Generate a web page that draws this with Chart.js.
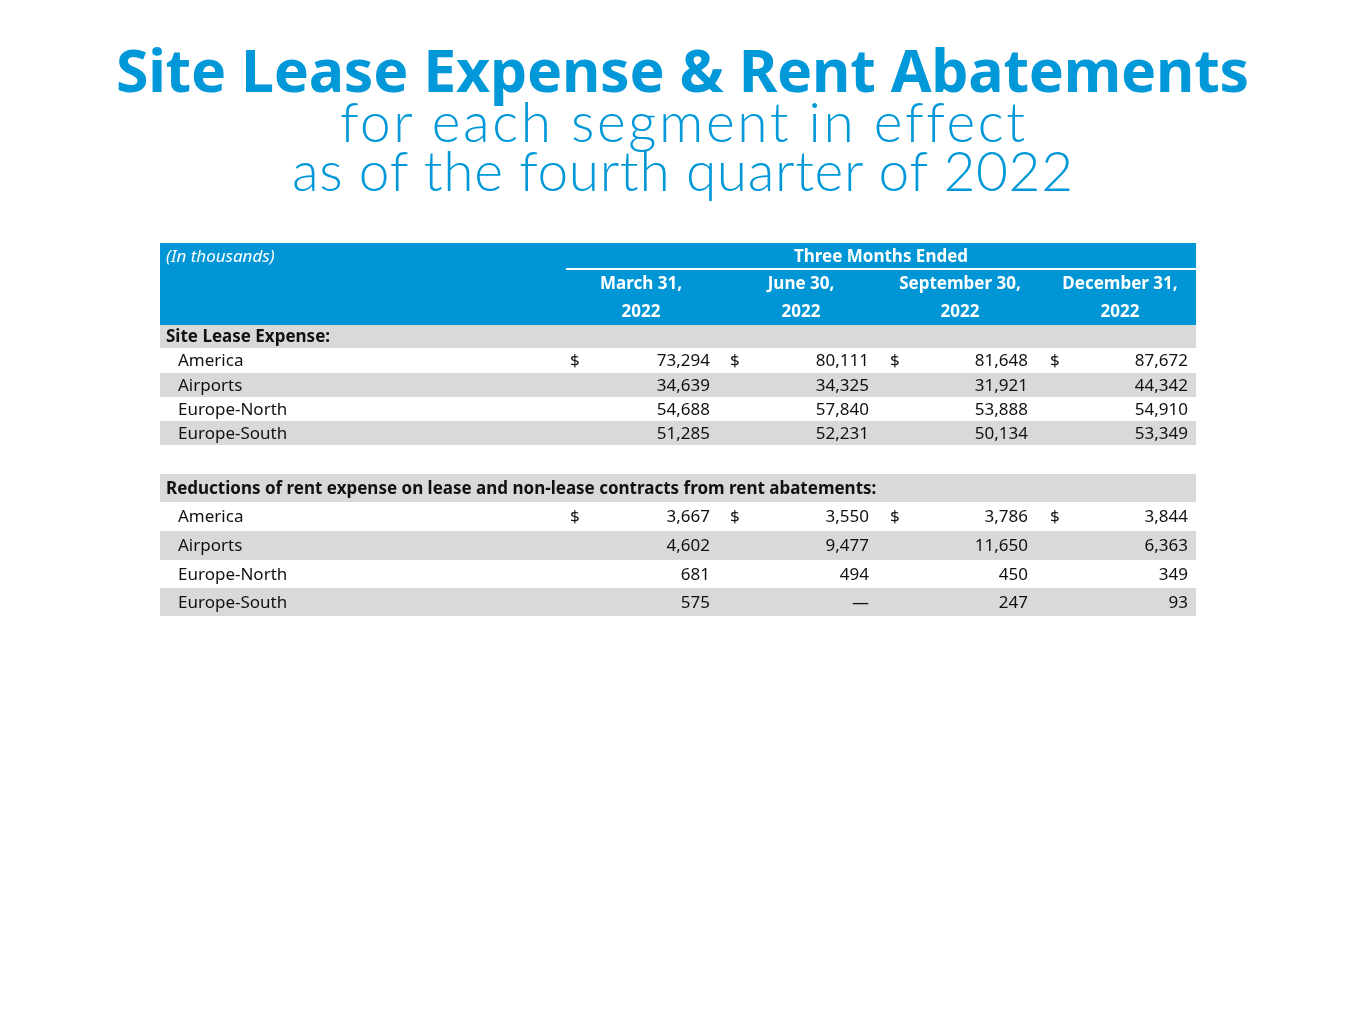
<!DOCTYPE html>
<html>
<head>
<meta charset="utf-8">
<title>Site Lease Expense & Rent Abatements</title>
<script src="https://cdn.jsdelivr.net/npm/chart.js@4.4.0/dist/chart.umd.min.js"></script>
<style>
  body { margin: 0; background: #fff; width: 1365px; height: 1024px; position: relative; overflow: hidden; }
  .titulo { position: absolute; left: 0; width: 1365px; text-align: center; color: #0098d8; white-space: nowrap; line-height: 1; }
  #titulo1 { font-family: "Noto Sans", sans-serif; font-weight: 700; }
  .sub { font-family: "Lato", sans-serif; font-weight: 300; }
  #tabla_wrap { position: absolute; left: 160px; top: 243px; width: 1036px; height: 373px; }
</style>
</head>
<body>
<div id="titulo1" class="titulo">Site Lease Expense &amp; Rent Abatements</div>
<div id="titulo2" class="titulo sub">for each segment in effect</div>
<div id="titulo3" class="titulo sub">as of the fourth quarter of 2022</div>
<div id="tabla_wrap"><canvas id="tabla" width="1036" height="373"></canvas></div>
<script>
// DATOS
const periodos = ["March 31,", "June 30,", "September 30,", "December 31,"];
const anios = ["2022", "2022", "2022", "2022"];
const segmentos = ["America", "Airports", "Europe-North", "Europe-South"];
const leaseAmerica = [73294, 80111, 81648, 87672];
const leaseAirports = [34639, 34325, 31921, 44342];
const leaseEuropeNorth = [54688, 57840, 53888, 54910];
const leaseEuropeSouth = [51285, 52231, 50134, 53349];
const abateAmerica = [3667, 3550, 3786, 3844];
const abateAirports = [4602, 9477, 11650, 6363];
const abateEuropeNorth = [681, 494, 450, 349];
const abateEuropeSouth = [575, null, 247, 93];

// LAYOUT (unidades de tabla)
const anchoTabla = 1036;
const altoFilas = [26, 28, 28, 23, 25, 24, 24, 24, 29, 28, 29, 29, 28, 28];
const xDolar = [410, 570, 730, 890];
const xNumero = [550, 709, 868, 1028];
const xCentro = [481, 641, 800, 960];
const xLinea = 406;

const AZUL = "#0096d6";
const GRIS = "#d9d9d9";
const FUENTE = '"Noto Sans", sans-serif';

// TITULOS: tamaño fijo, espaciado de letras para igualar el ancho
function ajustarTitulo(id, size, ancho, baseline, familia, peso) {
  let el = document.getElementById(id);
  let texto = el.textContent;
  let c = document.createElement("canvas").getContext("2d");
  c.font = peso + " " + size + "px " + familia;
  let w = c.measureText(texto).width;
  let espacio = (ancho - w) / texto.length;
  el.style.fontSize = size + "px";
  el.style.letterSpacing = espacio + "px";
  el.style.textIndent = espacio + "px";
  el.style.top = baseline - size * 0.888 + "px";
}
ajustarTitulo("titulo1", 59, 1133, 92, '"Noto Sans"', 700);
ajustarTitulo("titulo2", 55, 687, 143, '"Lato"', 300);
ajustarTitulo("titulo3", 55, 785, 192, '"Lato"', 300);

function formato(v) {
  if (v === null) return "\u2014";
  return v.toLocaleString("en-US");
}

// filas de la tabla
let filas = [
  { tipo: "h1" },
  { tipo: "h2" },
  { tipo: "h3" },
  { tipo: "seccion", fondo: GRIS, texto: "Site Lease Expense:" },
  { tipo: "dato", fondo: "#fff", texto: segmentos[0], valores: leaseAmerica, dolar: true },
  { tipo: "dato", fondo: GRIS, texto: segmentos[1], valores: leaseAirports },
  { tipo: "dato", fondo: "#fff", texto: segmentos[2], valores: leaseEuropeNorth },
  { tipo: "dato", fondo: GRIS, texto: segmentos[3], valores: leaseEuropeSouth },
  { tipo: "vacio" },
  { tipo: "seccion", fondo: GRIS, texto: "Reductions of rent expense on lease and non-lease contracts from rent abatements:", ancho: 771 },
  { tipo: "dato", fondo: "#fff", texto: segmentos[0], valores: abateAmerica, dolar: true },
  { tipo: "dato", fondo: GRIS, texto: segmentos[1], valores: abateAirports },
  { tipo: "dato", fondo: "#fff", texto: segmentos[2], valores: abateEuropeNorth },
  { tipo: "dato", fondo: GRIS, texto: segmentos[3], valores: abateEuropeSouth },
];
let acumulado = 0;
filas.forEach(function (f, i) {
  f.y0 = acumulado;
  acumulado += altoFilas[i];
  f.y1 = acumulado;
});

const pluginTabla = {
  id: "tabla",
  afterDraw(chart) {
    let ctx = chart.ctx;
    let sx = chart.scales.x;
    let sy = chart.scales.y;
    let px = (v) => sx.getPixelForValue(v);
    let py = (v) => sy.getPixelForValue(v);
    ctx.save();
    // fondo cabecera
    ctx.fillStyle = AZUL;
    ctx.fillRect(px(0), py(filas[0].y0), px(anchoTabla) - px(0), py(filas[2].y1) - py(filas[0].y0));
    // linea blanca bajo "Three Months Ended"
    ctx.strokeStyle = "#fff";
    ctx.lineWidth = 2;
    ctx.beginPath();
    ctx.moveTo(px(xLinea), py(filas[0].y1));
    ctx.lineTo(px(anchoTabla), py(filas[0].y1));
    ctx.stroke();

    ctx.textBaseline = "middle";
    filas.forEach(function (f) {
      let yc = (py(f.y0) + py(f.y1)) / 2 + 1;
      if (f.fondo) {
        ctx.fillStyle = f.fondo;
        ctx.fillRect(px(0), py(f.y0), px(anchoTabla) - px(0), py(f.y1) - py(f.y0));
      }
      if (f.tipo === "h1") {
        ctx.fillStyle = "#fff";
        ctx.font = "italic 17px " + FUENTE;
        ctx.textAlign = "left";
        ctx.fillText("(In thousands)", px(6), yc);
        ctx.font = "bold 17px " + FUENTE;
        ctx.textAlign = "center";
        ctx.fillText("Three Months Ended", (px(xLinea) + px(anchoTabla)) / 2, yc);
      } else if (f.tipo === "h2" || f.tipo === "h3") {
        ctx.fillStyle = "#fff";
        ctx.font = "bold 17px " + FUENTE;
        ctx.textAlign = "center";
        let textos = f.tipo === "h2" ? periodos : anios;
        textos.forEach(function (t, j) {
          ctx.fillText(t, px(xCentro[j]), yc);
        });
      } else if (f.tipo === "seccion") {
        ctx.fillStyle = "#111";
        ctx.font = "bold 17px " + FUENTE;
        ctx.textAlign = "left";
        let w = ctx.measureText(f.texto).width;
        if (f.ancho && w > f.ancho) {
          ctx.save();
          ctx.translate(px(6), yc);
          ctx.scale(f.ancho / w, 1);
          ctx.fillText(f.texto, 0, 0);
          ctx.restore();
        } else {
          ctx.fillText(f.texto, px(6), yc);
        }
      } else if (f.tipo === "dato") {
        ctx.fillStyle = "#111";
        ctx.font = "17px " + FUENTE;
        ctx.textAlign = "left";
        ctx.fillText(f.texto, px(18), yc);
        f.valores.forEach(function (v, j) {
          if (f.dolar) {
            ctx.textAlign = "left";
            ctx.fillText("$", px(xDolar[j]), yc);
          }
          ctx.textAlign = "right";
          ctx.fillText(formato(v), px(xNumero[j]), yc);
        });
      }
    });
    ctx.restore();
  },
};

new Chart(document.getElementById("tabla").getContext("2d"), {
  type: "scatter",
  data: { datasets: [] },
  options: {
    responsive: false,
    animation: false,
    events: [],
    layout: { padding: 0 },
    plugins: { legend: { display: false }, tooltip: { enabled: false } },
    scales: {
      x: { type: "linear", min: 0, max: anchoTabla, display: false },
      y: { type: "linear", min: 0, max: acumulado, reverse: true, display: false },
    },
  },
  plugins: [pluginTabla],
});
</script>
</body>
</html>
